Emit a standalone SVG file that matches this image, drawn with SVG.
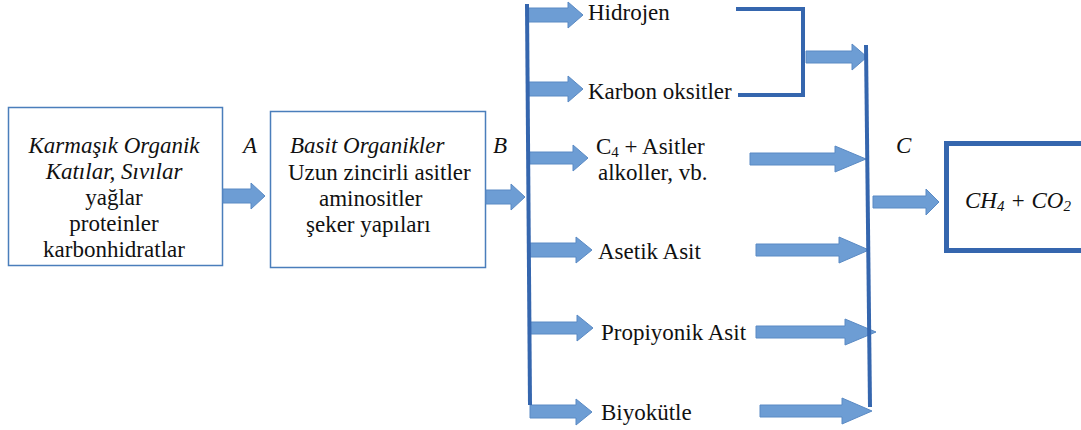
<svg xmlns="http://www.w3.org/2000/svg" width="1081" height="430" viewBox="0 0 1081 430" font-family="Liberation Serif, Times New Roman, DejaVu Serif, serif">
<style>
text{font-size:23px;fill:#111}
.it{font-style:italic}
.box{fill:#fff;stroke:#4a7ebb;stroke-width:1.5}
.fbox{fill:#fff;stroke:#3566ae;stroke-width:5}
.arr{fill:#6d9dd4;stroke:#5a8ac4;stroke-width:1}
.bus{fill:none;stroke:#3566ae;stroke-width:4}
</style>
<rect width="1081" height="430" fill="#fff"/>
<g id="n1">
<rect class="box" x="8.5" y="107.5" width="214" height="158"/>
<text class="it" x="114" y="153" text-anchor="middle">Karmaşık Organik</text>
<text class="it" x="114" y="179" text-anchor="middle">Katılar, Sıvılar</text>
<text x="114" y="205" text-anchor="middle">yağlar</text>
<text x="114" y="231" text-anchor="middle">proteinler</text>
<text x="114" y="257" text-anchor="middle">karbonhidratlar</text>
</g>
<g id="n2">
<rect class="box" x="270.5" y="111.5" width="215" height="156"/>
<text class="it" x="290" y="153">Basit Organikler</text>
<text x="288" y="180">Uzun zincirli asitler</text>
<text x="319" y="206">aminositler</text>
<text x="306" y="232">şeker yapıları</text>
</g>
<g id="n3"><text x="588" y="20">Hidrojen</text></g>
<g id="n4"><text x="588" y="99">Karbon oksitler</text></g>
<g id="n5"><text x="596" y="154">C<tspan font-size="15" dy="3">4</tspan><tspan dy="-3"> + Asitler</tspan></text><text x="598" y="180">alkoller, vb.</text></g>
<g id="n6"><text x="598" y="259">Asetik Asit</text></g>
<g id="n7"><text x="601" y="340">Propiyonik Asit</text></g>
<g id="n8"><text x="601" y="420">Biyokütle</text></g>
<g id="n9">
<rect class="fbox" x="946.5" y="143.5" width="145" height="107"/>
<text class="it" x="965" y="208">CH<tspan font-size="15" dy="3">4</tspan><tspan dy="-3"> + CO</tspan><tspan font-size="15" dy="3">2</tspan></text>
</g>
<g id="labels">
<text class="it" x="243" y="153">A</text>
<text class="it" x="493" y="153">B</text>
<text class="it" x="896" y="153">C</text>
</g>
<g id="connectors">
<path class="arr" d="M223 189H251V183L265 196L251 209V203H223Z"/>
<path class="arr" d="M486 190H511V184L525 197L511 210V204H486Z"/>
<path class="arr" d="M528 8H568V2L583 15L568 28V22H528Z"/>
<path class="arr" d="M528 82H568V76L583 89L568 102V96H528Z"/>
<path class="arr" d="M529 152H573V145L588 158L573 171V164H529Z"/>
<path class="arr" d="M529 243H576V237L592 250L576 263V257H529Z"/>
<path class="arr" d="M530 322H577V315L593 328L577 341V334H530Z"/>
<path class="arr" d="M530 405H576V399L592 412L576 425V418H530Z"/>
<path class="arr" d="M806 51H852V44L867 57L852 70V63H806Z"/>
<path class="arr" d="M750 153H835V146L866 159L835 172V165H750Z"/>
<path class="arr" d="M756 244H839V237L869 250L839 263V256H756Z"/>
<path class="arr" d="M756 326H845V319L876 332L845 345V338H756Z"/>
<path class="arr" d="M760 405H842V398L872 411L842 424V417H760Z"/>
<path class="arr" d="M873 196H926V189L939 202L926 215V208H873Z"/>
<line class="bus" x1="527" y1="4" x2="530" y2="405"/>
<line class="bus" x1="866" y1="45" x2="870" y2="407"/>
<path class="bus" d="M736 9H803V95H738"/>
</g>
</svg>
